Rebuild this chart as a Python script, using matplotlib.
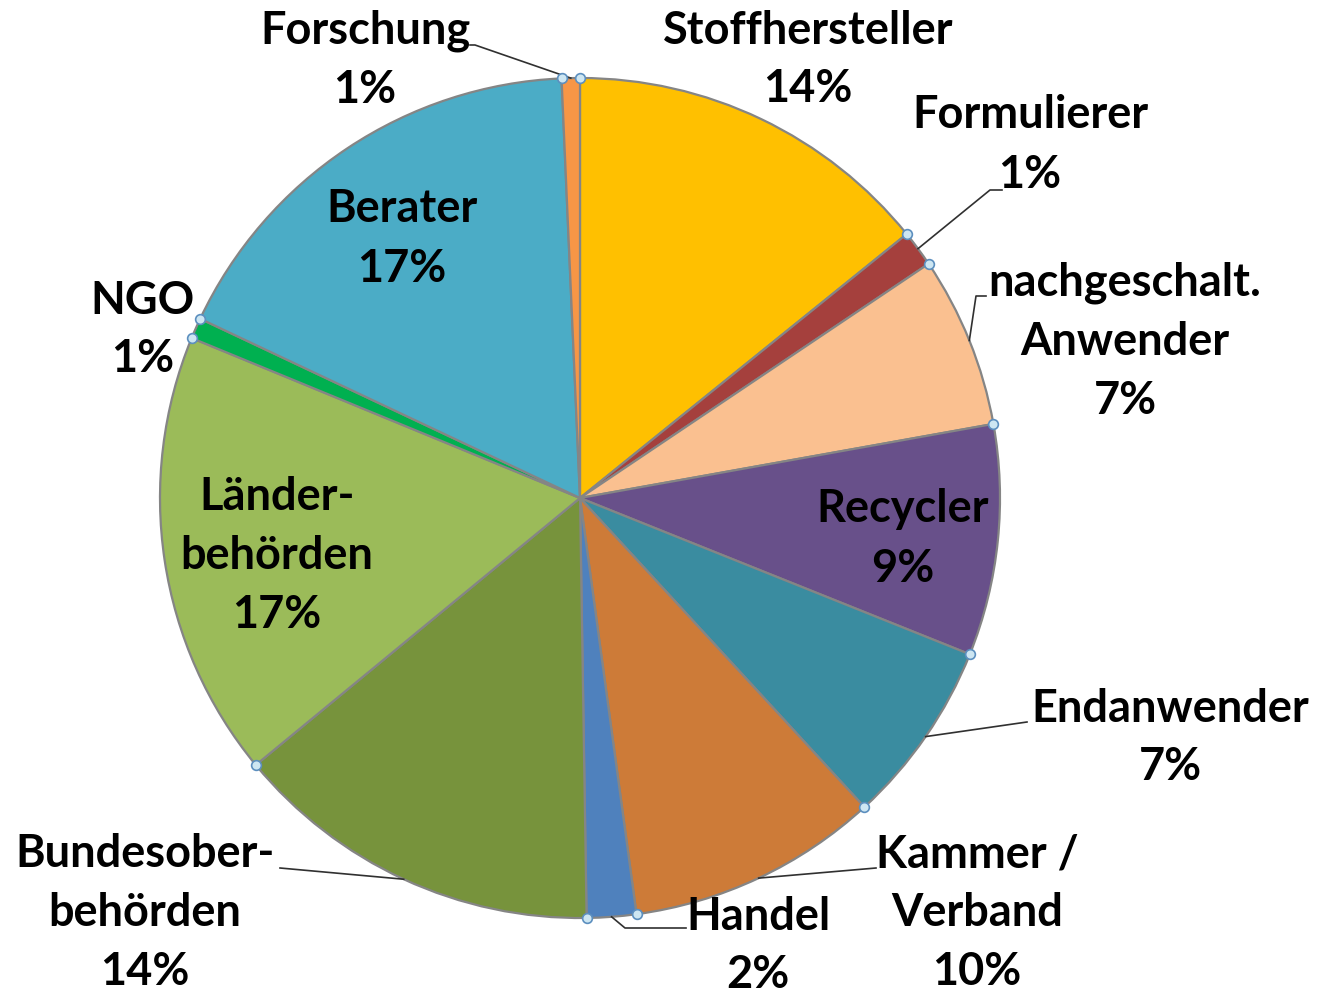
import numpy as np
import matplotlib.pyplot as plt

# Anteile der Akteure (im Uhrzeigersinn ab 12 Uhr)
names = ['Stoffhersteller', 'Formulierer', 'nachgeschalt.\nAnwender', 'Recycler',
         'Endanwender', 'Kammer /\nVerband', 'Handel', 'Bundesober-\nbehörden',
         'Länder-\nbehörden', 'NGO', 'Berater', 'Forschung']
shares = [14.2, 1.4, 6.6, 8.9, 7.1, 9.7, 1.9, 14.3, 17.2, 0.8, 17.3, 0.7]
colors = ['#FFC000', '#A5403D', '#FAC090', '#68508A', '#3A8CA0', '#CD7B38',
          '#4F81BD', '#77933C', '#9BBB59', '#00B050', '#4BACC6', '#F79646']

W, H = 1318, 992
fig = plt.figure(figsize=(W / 100, H / 100), dpi=100)
ax = fig.add_axes([0, 0, 1, 1])

cx, cy, R = 580, H - 498, 420
wedges, _ = ax.pie(shares, colors=colors, startangle=90, counterclock=False,
                   center=(cx, cy), radius=R,
                   wedgeprops=dict(edgecolor='#858585', linewidth=1.6))
ax.set_xlim(0, W)
ax.set_ylim(0, H)
ax.set_aspect('equal')
ax.axis('off')

def on_circle(deg, r=R):
    t = np.deg2rad(deg)
    return cx + r * np.cos(t), cy + r * np.sin(t)

# Beschriftung: (Mitte x, Mitte y in Pixel von oben, Knick der Linie, Ende der Linie)
labels = {
    0: (808, 60, None, None),
    1: (1030, 145, (990, 190), (1002, 190)),
    2: (1125, 342, (976, 296), (986, 296)),
    3: (903, 539, None, None),
    4: (1170, 738, None, (1027, 722)),
    5: (977, 913, None, (876, 868)),
    6: (758, 946, (625, 928), (686, 928)),
    7: (145, 913, None, (280, 868)),
    8: (277, 556, None, None),
    9: (143, 330, None, None),
    10: (402, 239, None, None),
    11: (365, 60, (475, 45), (470, 45)),
}

font = dict(family=['Lato', 'DejaVu Sans'], fontweight='bold', fontsize=32.5,
            color='black', ha='center', va='center', linespacing=1.5)

for i, w in enumerate(wedges):
    x, y, knee, end = labels[i]
    pct = int(round(shares[i]))
    ax.text(x, H - y, f'{names[i]}\n{pct}%', **font)
    if end is not None:
        mid = (w.theta1 + w.theta2) / 2
        sx, sy = on_circle(mid)
        pts = [(sx, sy)]
        if knee is not None:
            pts.append((knee[0], H - knee[1]))
        pts.append((end[0], H - end[1]))
        xs, ys = zip(*pts)
        ax.plot(xs, ys, color='#303030', lw=1.2, zorder=3)

# Markierungspunkte an den Segmentgrenzen
bounds = [w.theta1 for w in wedges]
bx, by = zip(*[on_circle(t) for t in bounds])
ax.plot(bx, by, 'o', ms=7, mfc='#CDE6F2', mec='#5C8FBF', mew=1.2, zorder=4)

fig.savefig('out.png', dpi=100, facecolor='white')
